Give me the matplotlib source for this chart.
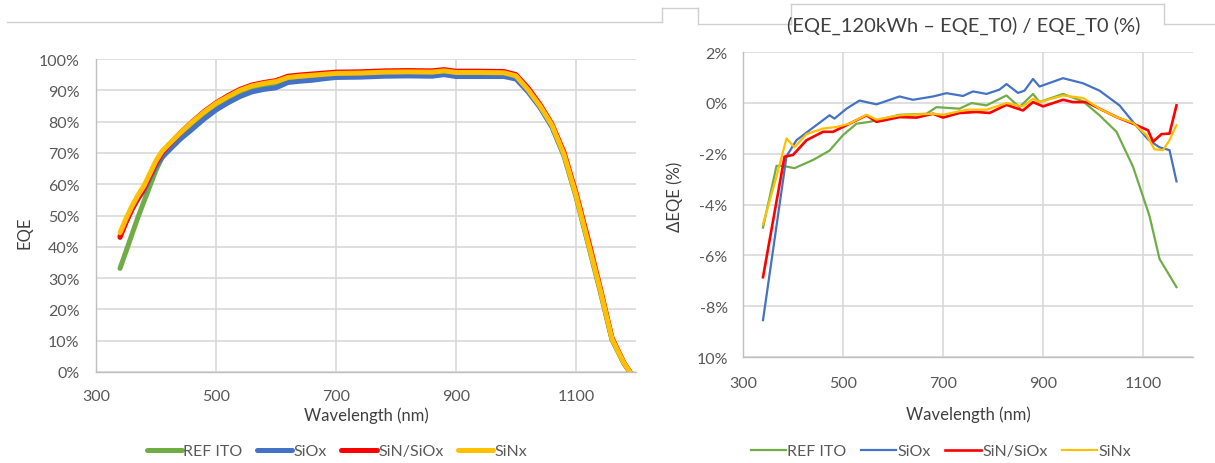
import matplotlib
matplotlib.use("Agg")
import matplotlib.pyplot as plt
from matplotlib.lines import Line2D
from matplotlib.ticker import FixedLocator, FixedFormatter

plt.rcParams['font.family'] = ['Lato', 'DejaVu Sans']

# ---- left panel: EQE (%) ----
wl = [340, 350, 360, 370, 380, 390, 400, 410, 420, 440, 460, 480, 500, 520, 540,
      560, 580, 600, 620, 640, 660, 680, 700, 740, 780, 820, 860, 880, 900, 940,
      980, 1000, 1020, 1040, 1060, 1080, 1100, 1120, 1140, 1160, 1180, 1190]

eqe_ref = [33.1, 38.5, 44.0, 49.5, 54.5, 59.5, 64.5, 68.5, 71.3, 75.5, 78.8, 82.0, 85.0, 87.3, 89.3,
           90.8, 91.6, 92.2, 93.6, 94.0, 94.3, 94.7, 95.0, 95.1, 95.4, 95.5, 95.4, 95.8, 95.3, 95.3,
           95.2, 94.2, 90.0, 84.7, 78.3, 69.0, 56.0, 41.0, 26.0, 10.3, 2.7, 0.0]
eqe_siox = [43.5, 48.0, 52.0, 55.3, 58.0, 62.0, 65.8, 68.5, 70.5, 74.3, 77.5, 80.8, 83.7, 86.0, 88.0,
            89.5, 90.3, 90.8, 92.5, 92.9, 93.2, 93.7, 94.1, 94.2, 94.5, 94.6, 94.5, 95.0, 94.4, 94.4,
            94.4, 93.6, 89.5, 84.5, 78.3, 69.3, 56.5, 41.5, 26.5, 10.5, 2.8, 0.0]
eqe_sinsiox = [43.0, 47.8, 52.0, 55.5, 58.7, 62.8, 66.8, 70.0, 72.2, 76.3, 79.9, 83.2, 86.0, 88.3, 90.3,
               91.7, 92.5, 93.1, 94.5, 94.9, 95.2, 95.5, 95.8, 95.9, 96.2, 96.3, 96.2, 96.6, 96.1, 96.1,
               96.0, 95.0, 90.8, 85.5, 79.2, 70.2, 57.3, 42.6, 27.2, 10.9, 2.9, 0.0]
eqe_sinx = [44.5, 49.0, 53.0, 56.5, 59.5, 63.5, 67.5, 70.5, 72.5, 76.3, 79.8, 83.0, 85.8, 88.0, 90.0,
            91.4, 92.2, 92.8, 94.1, 94.5, 94.8, 95.1, 95.4, 95.5, 95.8, 95.9, 95.8, 96.2, 95.7, 95.7,
            95.6, 94.6, 90.2, 85.0, 78.8, 69.5, 56.5, 41.5, 26.5, 10.5, 2.8, 0.0]

# ---- right panel: delta EQE (%) ----
wl_d_ref = [340, 367, 380, 403, 440, 473, 500, 527, 553, 613, 667, 687, 733, 757, 787, 827, 853,
            880, 893, 940, 980, 1013, 1047, 1080, 1113, 1133, 1167]
d_ref = [-4.91, -2.48, -2.48, -2.57, -2.25, -1.88, -1.27, -0.82, -0.75, -0.47, -0.43, -0.17, -0.23,
         -0.01, -0.10, 0.29, -0.17, 0.35, 0.03, 0.35, 0.06, -0.49, -1.14, -2.51, -4.45, -6.14, -7.25]

wl_d_siox = [340, 387, 407, 433, 473, 483, 507, 533, 567, 613, 640, 680, 707, 740, 760, 787, 813,
             827, 850, 863, 880, 893, 940, 980, 1013, 1053, 1080, 1110, 1133, 1153, 1167]
d_siox = [-8.55, -2.10, -1.47, -1.08, -0.49, -0.62, -0.23, 0.09, -0.06, 0.25, 0.12, 0.25, 0.38, 0.27,
          0.45, 0.35, 0.52, 0.74, 0.39, 0.48, 0.94, 0.64, 0.97, 0.77, 0.48, -0.10, -0.75, -1.44,
          -1.75, -1.86, -3.09]

wl_d_sinsiox = [340, 383, 400, 427, 460, 480, 507, 547, 567, 613, 647, 680, 700, 733, 767, 793, 827,
                860, 880, 900, 940, 960, 987, 1013, 1047, 1080, 1110, 1120, 1137, 1153, 1167]
d_sinsiox = [-6.86, -2.12, -2.05, -1.47, -1.14, -1.14, -0.88, -0.49, -0.75, -0.56, -0.58, -0.43,
             -0.58, -0.40, -0.36, -0.40, -0.08, -0.30, 0.03, -0.14, 0.12, 0.03, 0.03, -0.23, -0.56,
             -0.82, -1.08, -1.53, -1.23, -1.21, -0.10]

wl_d_sinx = [340, 367, 387, 403, 427, 460, 487, 513, 547, 567, 613, 680, 700, 747, 787, 827, 860,
             880, 893, 940, 980, 1013, 1047, 1080, 1107, 1123, 1140, 1153, 1167]
d_sinx = [-4.78, -2.90, -1.40, -1.75, -1.23, -1.01, -0.95, -0.82, -0.47, -0.66, -0.49, -0.43, -0.47,
          -0.27, -0.27, -0.01, -0.14, 0.16, 0.03, 0.29, 0.19, -0.23, -0.56, -0.79, -1.27, -1.83,
          -1.86, -1.47, -0.88]

names = ['REF ITO', 'SiOx', 'SiN/SiOx', 'SiNx']
colors = ['#70AD47', '#4472C4', '#FF0000', '#FFC000']
x_ticks = [300, 500, 700, 900, 1100]
left_yticks = [0, 10, 20, 30, 40, 50, 60, 70, 80, 90, 100]
right_yticks = [-10, -8, -6, -4, -2, 0, 2]
right_ylabels = ['10%', '-8%', '-6%', '-4%', '-2%', '0%', '2%']

grid_c = '#d9d9d9'
text_c = '#595959'

fig = plt.figure(figsize=(12.15, 4.64), dpi=100)
W, H = 1215, 464


def px_axes(x0, x1, ytop, ybot):
    return fig.add_axes([x0 / W, 1 - ybot / H, (x1 - x0) / W, (ybot - ytop) / H])


def style(ax):
    for s in ['top', 'right']:
        ax.spines[s].set_visible(False)
    for s in ['left', 'bottom']:
        ax.spines[s].set_color('#bfbfbf')
        ax.spines[s].set_linewidth(1)
    ax.grid(True, color=grid_c, linewidth=1.2)
    ax.set_axisbelow(True)
    ax.tick_params(length=0, labelsize=11.5, labelcolor=text_c)
    ax.set_xlim(300, 1200)
    ax.xaxis.set_major_locator(FixedLocator(x_ticks))


ax1 = px_axes(96, 636, 60, 373)
style(ax1)
ax1.tick_params(axis='x', pad=12)
ax1.tick_params(axis='y', pad=12)
for y, c, n in zip([eqe_ref, eqe_siox, eqe_sinsiox, eqe_sinx], colors, names):
    ax1.plot(wl, y, color=c, lw=3.6, label=n, solid_capstyle='round')
ax1.set_ylim(0, 100)
ax1.yaxis.set_major_locator(FixedLocator(left_yticks))
ax1.yaxis.set_major_formatter(FixedFormatter([f'{v}%' for v in left_yticks]))
ax1.set_xlabel('Wavelength (nm)', fontsize=12, color='#404040')
ax1.set_ylabel('EQE', fontsize=12, color='#404040')
ax1.xaxis.set_label_coords(0.5, -0.11)
ax1.yaxis.set_label_coords(-0.1185, 0.447)

ax2 = px_axes(743, 1193, 53, 358)
style(ax2)
ax2.tick_params(axis='x', pad=14)
ax2.tick_params(axis='y', pad=11)
for x, y, c, n in zip([wl_d_ref, wl_d_siox, wl_d_sinsiox, wl_d_sinx],
                      [d_ref, d_siox, d_sinsiox, d_sinx], colors, names):
    ax2.plot(x, y, color=c, lw=1.6 if c != '#FF0000' else 1.9, label=n)
ax2.set_ylim(-10, 2)
ax2.yaxis.set_major_locator(FixedLocator(right_yticks))
ax2.yaxis.set_major_formatter(FixedFormatter(right_ylabels))
ax2.set_xlabel('Wavelength (nm)', fontsize=12, color='#404040')
ax2.set_ylabel('\u0394EQE (%)', fontsize=12, color='#404040')
ax2.xaxis.set_label_coords(0.5, -0.16)
ax2.yaxis.set_label_coords(-0.133, 0.528)

leg_kw = dict(ncol=4, frameon=False, fontsize=11.5, handlelength=2.2, handletextpad=0.1,
              columnspacing=0.9, loc='center', labelcolor=text_c)
fig.legend(handles=ax1.get_lines(), bbox_to_anchor=(337 / W, 1 - 452 / H), **leg_kw)
fig.legend(handles=ax2.get_lines(), bbox_to_anchor=(941 / W, 1 - 452 / H), **leg_kw)

# title tab of the right chart
fig.text(964 / W, 1 - 26 / H, '(EQE_120kWh \u2013 EQE_T0) / EQE_T0 (%)', ha='center', va='center',
         fontsize=14.5, color='#404040')

frame = [((7, 23), (662, 23)), ((662, 23), (662, 9)), ((662, 9), (698, 9)), ((698, 9), (698, 25)),
         ((698, 25), (791, 25)), ((791, 25), (791, 5)), ((791, 5), (1164, 5)), ((1164, 5), (1164, 25)),
         ((1164, 25), (1215, 25))]
for (xa, ya), (xb, yb) in frame:
    fig.add_artist(Line2D([xa / W, xb / W], [1 - ya / H, 1 - yb / H], color='#d0d0d0', lw=1))

fig.savefig('out.png', dpi=100)
